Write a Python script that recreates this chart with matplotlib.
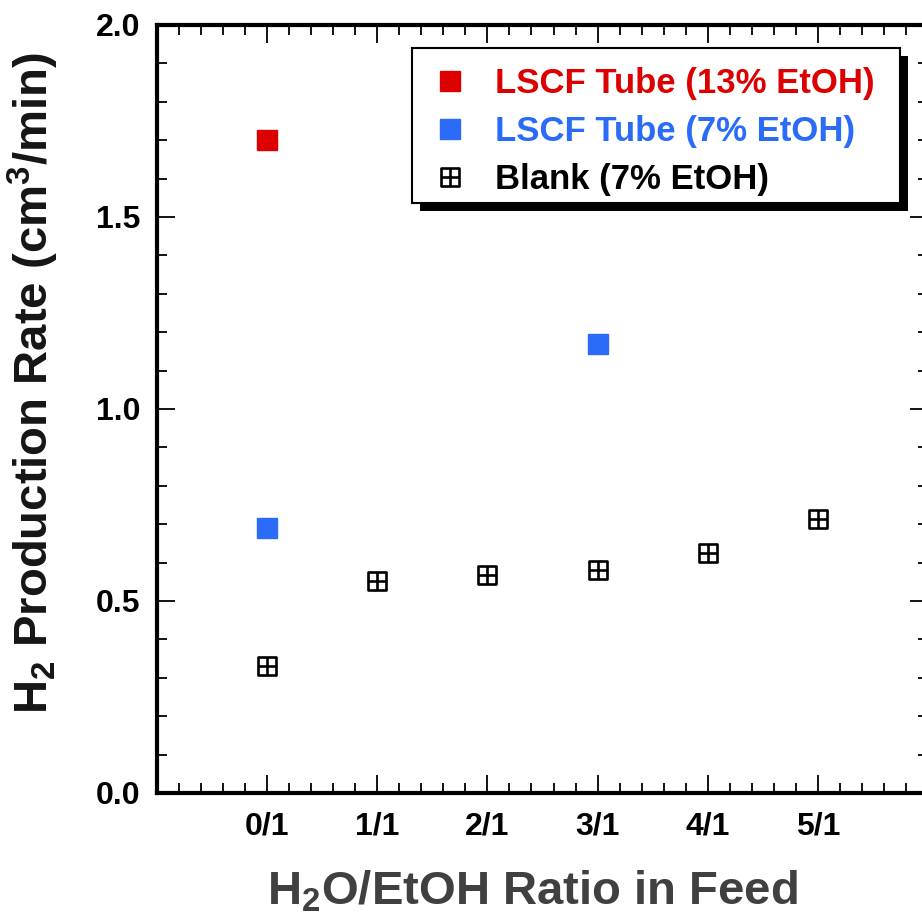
import matplotlib
matplotlib.use("Agg")
import matplotlib.pyplot as plt
from matplotlib.path import Path
from matplotlib.patches import Rectangle
from matplotlib.ticker import MultipleLocator, FixedLocator

plt.rcParams['font.family'] = ['Liberation Sans', 'DejaVu Sans']
plt.rcParams['font.weight'] = 'bold'
plt.rcParams['mathtext.fontset'] = 'custom'
plt.rcParams['mathtext.rm'] = 'Liberation Sans:bold'
plt.rcParams['mathtext.default'] = 'rm'

# data
ratio_labels = ['0/1', '1/1', '2/1', '3/1', '4/1', '5/1']
ratio_pos = [0, 1, 2, 3, 4, 5]

lscf13_x = [0]
lscf13_y = [1.70]

lscf7_x = [0, 3]
lscf7_y = [0.69, 1.17]

blank_x = [0, 1, 2, 3, 4, 5]
blank_y = [0.33, 0.553, 0.568, 0.581, 0.625, 0.714]

# square with a cross inside
box_plus = Path(
    [(-1, -1), (1, -1), (1, 1), (-1, 1), (-1, -1), (0, -1), (0, 1), (-1, 0), (1, 0)],
    [Path.MOVETO, Path.LINETO, Path.LINETO, Path.LINETO, Path.CLOSEPOLY,
     Path.MOVETO, Path.LINETO, Path.MOVETO, Path.LINETO])

W, H = 922, 914
x0, x1, y0, y1 = 157, 928, 25, 793  # axes box in pixels (top-left origin)

fig = plt.figure(figsize=(W/100, H/100), dpi=100)
ax = fig.add_axes([x0/W, 1 - y1/H, (x1-x0)/W, (y1-y0)/H])

ax.plot(lscf13_x, lscf13_y, ls='none', marker='s', ms=14, color='#dd0000',
        mec='#dd0000', label='LSCF Tube (13% EtOH)', clip_on=False, zorder=3)
ax.plot(lscf7_x, lscf7_y, ls='none', marker='s', ms=14, color='#2a6cf8',
        mec='#2a6cf8', label='LSCF Tube (7% EtOH)', clip_on=False, zorder=3)
ax.plot(blank_x, blank_y, ls='none', marker=box_plus, ms=13.5, mfc='none',
        mec='black', mew=1.9, label='Blank (7% EtOH)', clip_on=False, zorder=3)

ax.set_xlim(-1, 6)
ax.set_ylim(0, 2.0)
ax.xaxis.set_major_locator(FixedLocator(ratio_pos))
ax.set_xticklabels(ratio_labels)
ax.xaxis.set_minor_locator(MultipleLocator(0.2))
ax.yaxis.set_major_locator(MultipleLocator(0.5))
ax.yaxis.set_minor_locator(MultipleLocator(0.1))
ax.yaxis.set_major_formatter(matplotlib.ticker.FormatStrFormatter('%.1f'))

ax.tick_params(which='both', direction='in', top=True, right=True, width=1.3,
               labelsize=23, colors='black')
ax.tick_params(which='major', length=13)
ax.tick_params(which='minor', length=7)
ax.tick_params(axis='x', pad=13)
ax.tick_params(axis='y', pad=12)
for lab in ax.get_xticklabels() + ax.get_yticklabels():
    lab.set_fontweight('bold')
for sp in ax.spines.values():
    sp.set_linewidth(3)

fig.text(532/W, 1 - 904/H, r'H$_{\mathregular{2}}$O/EtOH Ratio in Feed',
         fontsize=34, fontweight='bold', color='#404040', ha='center', va='baseline')
fig.text(33/W, 1 - 383/H, r'H$_{\mathregular{2}}$ Production Rate (cm$^{\mathregular{3}}$/min)',
         fontsize=34, fontweight='bold', color='#151515', ha='center', va='center',
         rotation=90)

def px2ax(px, py):
    return (px - x0) / (x1 - x0), (y1 - py) / (y1 - y0)

# legend box with black drop shadow
bx0, by0 = px2ax(412, 203)
bx1, by1 = px2ax(900, 48)
sx, sy = 8 / (x1 - x0), 8 / (y1 - y0)
ax.add_patch(Rectangle((bx0 + sx, by0 - sy), bx1 - bx0, by1 - by0,
                       transform=ax.transAxes, facecolor='black', edgecolor='none',
                       zorder=4.5, clip_on=False))
ax.add_patch(Rectangle((bx0, by0), bx1 - bx0, by1 - by0,
                       transform=ax.transAxes, facecolor='white', edgecolor='black',
                       lw=1.5, zorder=4.6, clip_on=False))

leg = ax.legend(loc='upper left', bbox_to_anchor=px2ax(422, 67), borderaxespad=0,
                frameon=False, fontsize=25, handlelength=1.6, handletextpad=0.5,
                borderpad=0, labelspacing=0.43, markerscale=1.0)
for txt, col in zip(leg.get_texts(), ['#dd0000', '#2a6cf8', 'black']):
    txt.set_color(col)
    txt.set_fontweight('bold')
leg.set_zorder(5)

fig.savefig('out.png', dpi=100)
